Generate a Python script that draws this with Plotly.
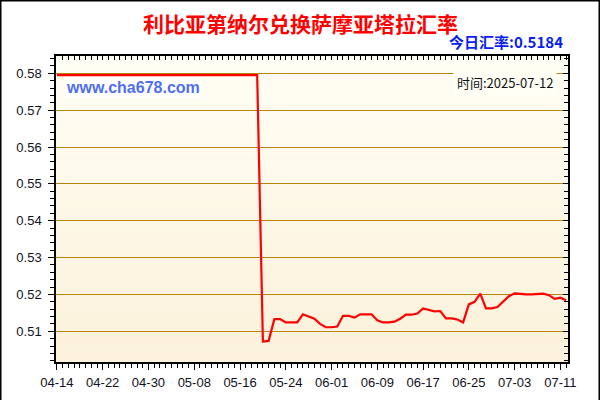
import pandas as pd
import plotly.graph_objects as go

# ---- data ----
dates = pd.date_range("2025-04-14", "2025-07-12", freq="D")
rates = [
    0.5795, 0.5795, 0.5795, 0.5795, 0.5795, 0.5795, 0.5795, 0.5795, 0.5795, 0.5795,
    0.5795, 0.5795, 0.5795, 0.5795, 0.5795, 0.5795, 0.5795, 0.5795, 0.5795, 0.5795,
    0.5795, 0.5795, 0.5795, 0.5795, 0.5795, 0.5795, 0.5795, 0.5795, 0.5795, 0.5795,
    0.5795, 0.5795, 0.5795, 0.5795, 0.5795, 0.5795,
    0.5072, 0.5074, 0.5133, 0.5133, 0.5124, 0.5124, 0.5124, 0.5146, 0.5141, 0.5134,
    0.5120, 0.5111, 0.5111, 0.5113, 0.5142, 0.5142, 0.5137, 0.5146, 0.5146, 0.5146,
    0.5130, 0.5124, 0.5124, 0.5126, 0.5134, 0.5145, 0.5145, 0.5148, 0.5162, 0.5158,
    0.5154, 0.5155, 0.5135, 0.5135, 0.5132, 0.5124, 0.5173, 0.5180, 0.5202, 0.5162,
    0.5162, 0.5166, 0.5180, 0.5195, 0.5203, 0.5201, 0.5200, 0.5200, 0.5200, 0.5202,
    0.5198, 0.5188, 0.5191, 0.5184,
]
title_text = "利比亚第纳尔兑换萨摩亚塔拉汇率"
today_text = "今日汇率:0.5184"
site_text = "www.cha678.com"
time_text = "时间:2025-07-12"
y_ticks = [0.51, 0.52, 0.53, 0.54, 0.55, 0.56, 0.57, 0.58]

W, H = 600, 400
L, R, T, B = 56, 32, 56, 38
PW, PH = W - L - R, H - T - B

DAY = 86400000
x_range = [dates[0] - pd.Timedelta(hours=4), dates[-1] + pd.Timedelta(hours=8)]
y_range = [0.50167, 0.58469]

fig = go.Figure()
fig.add_trace(go.Scatter(
    x=dates, y=rates, mode="lines",
    line=dict(color="#ff0000", width=2.2),
    hoverinfo="skip", showlegend=False,
))
# invisible trace to carry the mirrored top/right axes
fig.add_trace(go.Scatter(
    x=dates, y=rates, mode="lines", xaxis="x2", yaxis="y2",
    line=dict(width=0), opacity=0, hoverinfo="skip", showlegend=False,
))

# vertical gradient background in bands
top_c = (255, 254, 244)
bot_c = (252, 241, 218)
N = 40
for i in range(N):
    f = i / (N - 1)
    c = tuple(round(top_c[k] + (bot_c[k] - top_c[k]) * f) for k in range(3))
    fig.add_shape(type="rect", xref="x domain", yref="y domain",
                  x0=0, x1=1, y0=1 - (i + 1) / N, y1=1 - i / N,
                  fillcolor="rgb(%d,%d,%d)" % c, line_width=0, layer="below")

# outer frame
fig.add_shape(type="rect", xref="paper", yref="paper",
              x0=(0.75 - L) / PW, x1=(W - 0.75 - L) / PW,
              y0=(B - H + 1.0) / PH, y1=(H - 0.75 - B) / PH,
              line=dict(color="black", width=1.5), fillcolor="rgba(0,0,0,0)", layer="above")

axis_font = dict(family="Liberation Sans, Arial, sans-serif", size=13, color="#111122")
fig.update_layout(
    width=W, height=H,
    margin=dict(l=L, r=R, t=T, b=B, autoexpand=False),
    paper_bgcolor="white",
    plot_bgcolor="rgba(0,0,0,0)",
    showlegend=False,
    xaxis=dict(
        type="date", range=x_range,
        tick0=dates[0], dtick=8 * DAY, tickformat="%m-%d",
        ticks="outside", ticklen=6, tickcolor="black", tickwidth=1,
        minor=dict(dtick=DAY, ticks="outside", ticklen=4, tickcolor="black"),
        showline=True, linecolor="black", linewidth=1.5,
        showgrid=False, zeroline=False,
        tickfont=axis_font, ticklabelstandoff=2,
    ),
    yaxis=dict(
        range=y_range, tickvals=y_ticks, tickformat=".2f",
        ticks="outside", ticklen=6, tickcolor="black", tickwidth=1,
        minor=dict(dtick=0.002, tick0=0.5, ticks="outside", ticklen=4, tickcolor="black"),
        showline=True, linecolor="black", linewidth=1.5,
        showgrid=True, gridcolor="#b8860b", gridwidth=1,
        zeroline=False, tickfont=axis_font, ticklabelstandoff=4,
    ),
    xaxis2=dict(
        type="date", range=x_range, overlaying="x", side="top", anchor="y2",
        tick0=dates[0], dtick=8 * DAY, ticks="inside", ticklen=4, tickcolor="black",
        minor=dict(dtick=DAY, ticks="inside", ticklen=4, tickcolor="black"),
        showticklabels=False, showline=True, linecolor="black", linewidth=1.5,
        showgrid=False, zeroline=False,
    ),
    yaxis2=dict(
        range=y_range, overlaying="y", side="right", anchor="x2",
        tickvals=y_ticks, ticks="inside", ticklen=5, tickcolor="black",
        minor=dict(dtick=0.002, tick0=0.5, ticks="inside", ticklen=4, tickcolor="black"),
        showticklabels=False, showline=True, linecolor="black", linewidth=1.5,
        showgrid=False, zeroline=False,
    ),
)

cjk = "Noto Sans CJK SC, sans-serif"
fig.add_annotation(text="<b>%s</b>" % title_text, xref="paper", yref="paper",
                   x=(300 - L) / PW, y=(H - 23 - B) / PH, xanchor="center", yanchor="middle",
                   showarrow=False, font=dict(family=cjk, size=21, color="#ff0000"))
fig.add_annotation(text="<b>%s</b>" % today_text, xref="paper", yref="paper",
                   x=(565 - L) / PW, y=(H - 42 - B) / PH, xanchor="right", yanchor="middle",
                   showarrow=False, font=dict(family=cjk, size=15, color="#0a1ef0"))
fig.add_annotation(text="<b>%s</b>" % site_text, xref="paper", yref="paper",
                   x=(64 - L) / PW, y=(H - 87 - B) / PH, xanchor="left", yanchor="middle",
                   showarrow=False, bgcolor="white", borderpad=1,
                   font=dict(family="Liberation Sans, Arial, sans-serif", size=16, color="#4f6ef0"))
fig.add_annotation(text=time_text, xref="paper", yref="paper",
                   x=(557 - L) / PW, y=(H - 82 - B) / PH, xanchor="right", yanchor="middle",
                   showarrow=False, bgcolor="#fffff6", borderpad=3,
                   font=dict(family=cjk, size=13, color="#111111"))

fig.write_html("out.html", config={"displayModeBar": False},
               post_script="document.body.style.margin='0';document.body.style.padding='0';")
